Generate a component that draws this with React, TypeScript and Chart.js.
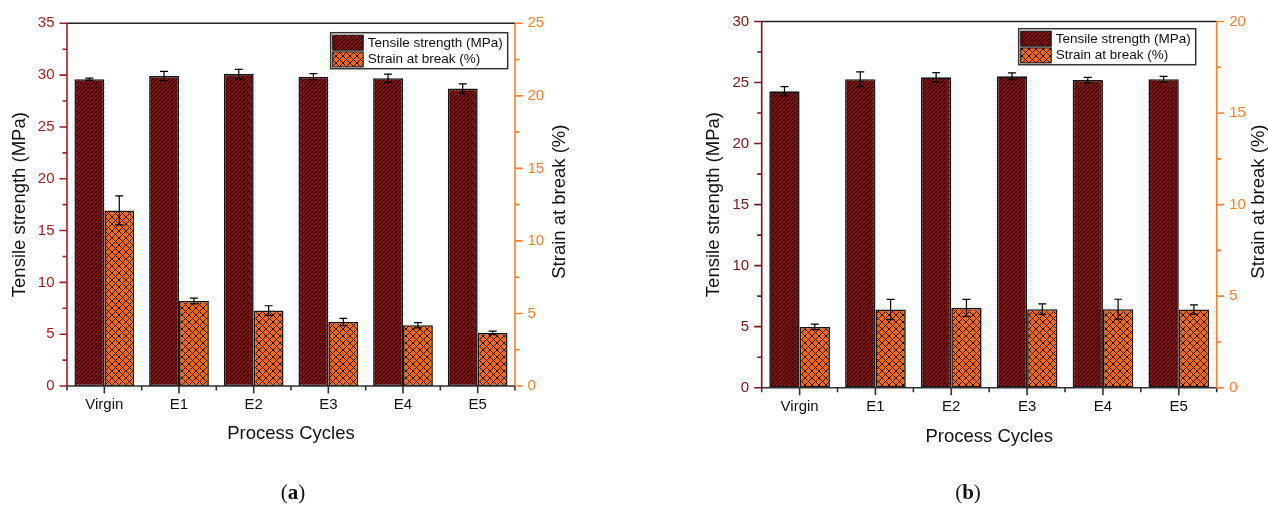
import React, { useEffect, useRef } from "react";
import { Chart, registerables } from "chart.js";

Chart.register(...registerables);

const W = 1268;
const H = 506;

// ---------- data ----------
const categories = ["Virgin", "E1", "E2", "E3", "E4", "E5"];
const seriesLabels = ["Tensile strength (MPa)", "Strain at break (%)"];

const tensileA = [29.6, 29.92, 30.1, 29.85, 29.7, 28.7];
const tensileErrA = [0.1, 0.45, 0.45, 0.3, 0.4, 0.45];
const strainA = [12.1, 5.86, 5.2, 4.41, 4.19, 3.66];
const strainErrA = [1.0, 0.2, 0.33, 0.25, 0.18, 0.12];

const tensileB = [24.28, 25.27, 25.43, 25.51, 25.2, 25.27];
const tensileErrB = [0.38, 0.6, 0.38, 0.28, 0.22, 0.24];
const strainB = [3.32, 4.27, 4.36, 4.29, 4.29, 4.27];
const strainErrB = [0.15, 0.55, 0.46, 0.29, 0.54, 0.25];

const leftMaxA = 35;
const rightMaxA = 25;
const leftMaxB = 30;
const rightMaxB = 20;
const tickStep = 5;

const xTitle = "Process Cycles";
const leftTitle = "Tensile strength (MPa)";
const rightTitle = "Strain at break (%)";

// ---------- styles / layout ----------
const FONT = '"Liberation Sans", Arial, sans-serif';
const ORANGE_AXIS = "#FF7F2A";

type Spec = {
  tensile: number[];
  tensileErr: number[];
  strain: number[];
  strainErr: number[];
  leftMax: number;
  rightMax: number;
  area: { left: number; right: number; top: number; bottom: number };
  leftColor: string;
  leftTitleX: number;
  rightTitleX: number;
  bottomTitleY: number;
  legendX: number;
  legendY: number;
};

const specA: Spec = {
  tensile: tensileA,
  tensileErr: tensileErrA,
  strain: strainA,
  strainErr: strainErrA,
  leftMax: leftMaxA,
  rightMax: rightMaxA,
  area: { left: 67, right: 515, top: 23.3, bottom: 386 },
  leftColor: "#A61E1E",
  leftTitleX: 20,
  rightTitleX: 560,
  bottomTitleY: 433.5,
  legendX: 330.7,
  legendY: 32.7,
};

const specB: Spec = {
  tensile: tensileB,
  tensileErr: tensileErrB,
  strain: strainB,
  strainErr: strainErrB,
  leftMax: leftMaxB,
  rightMax: rightMaxB,
  area: { left: 761.7, right: 1216.7, top: 20.7, bottom: 387.7 },
  leftColor: "#7A1414",
  leftTitleX: 713.5,
  rightTitleX: 1259,
  bottomTitleY: 437,
  legendX: 1018.7,
  legendY: 28.7,
};

function makeDiagonal(ctx: CanvasRenderingContext2D) {
  const c = document.createElement("canvas");
  c.width = 4;
  c.height = 4;
  const g = c.getContext("2d")!;
  g.fillStyle = "#9A0A00";
  g.fillRect(0, 0, 4, 4);
  g.strokeStyle = "#000";
  g.lineWidth = 1.05;
  g.beginPath();
  g.moveTo(-1, 5);
  g.lineTo(5, -1);
  g.moveTo(-1, 1);
  g.lineTo(1, -1);
  g.moveTo(3, 5);
  g.lineTo(5, 3);
  g.stroke();
  return ctx.createPattern(c, "repeat")!;
}

function makeCross(ctx: CanvasRenderingContext2D) {
  const c = document.createElement("canvas");
  c.width = 7;
  c.height = 7;
  const g = c.getContext("2d")!;
  g.fillStyle = "#FF6600";
  g.fillRect(0, 0, 7, 7);
  g.strokeStyle = "#000";
  g.lineWidth = 0.95;
  g.beginPath();
  g.moveTo(-1, -1);
  g.lineTo(8, 8);
  g.moveTo(-1, 8);
  g.lineTo(8, -1);
  g.stroke();
  return ctx.createPattern(c, "repeat")!;
}

function decorPlugin(spec: Spec, patterns: CanvasPattern[]) {
  return {
    id: "decor",
    afterDatasetsDraw(chart: any) {
      const ctx: CanvasRenderingContext2D = chart.ctx;
      const errs = [spec.tensileErr, spec.strainErr];
      ctx.save();
      ctx.strokeStyle = "#000";
      ctx.lineWidth = 1.2;
      chart.data.datasets.forEach((ds: any, di: number) => {
        const meta = chart.getDatasetMeta(di);
        const scale = chart.scales[ds.yAxisID];
        meta.data.forEach((bar: any, i: number) => {
          const v = ds.data[i];
          const e = errs[di][i];
          const yt = scale.getPixelForValue(v + e);
          const yb = scale.getPixelForValue(v - e);
          const x = bar.x;
          ctx.beginPath();
          ctx.moveTo(x, yt);
          ctx.lineTo(x, yb);
          ctx.moveTo(x - 4, yt);
          ctx.lineTo(x + 4, yt);
          ctx.moveTo(x - 4, yb);
          ctx.lineTo(x + 4, yb);
          ctx.stroke();
        });
      });
      ctx.restore();
    },
    afterDraw(chart: any) {
      const ctx: CanvasRenderingContext2D = chart.ctx;
      const a = chart.chartArea;
      const ys = chart.scales.y;
      const y1 = chart.scales.y1;
      const xs = chart.scales.x;
      const major = 7.5;
      const minor = 4.5;
      ctx.save();
      ctx.lineWidth = 1.6;
      // top border
      ctx.strokeStyle = "#222";
      ctx.beginPath();
      ctx.moveTo(a.left, a.top);
      ctx.lineTo(a.right, a.top);
      ctx.stroke();
      // bottom axis
      ctx.strokeStyle = "#333";
      ctx.beginPath();
      ctx.moveTo(a.left, a.bottom);
      ctx.lineTo(a.right, a.bottom);
      const n = categories.length;
      for (let i = 0; i < n; i++) {
        const x = xs.getPixelForValue(i);
        ctx.moveTo(x, a.bottom);
        ctx.lineTo(x, a.bottom + major);
      }
      const cw = (a.right - a.left) / n;
      for (let i = 0; i <= n; i++) {
        const x = a.left + i * cw;
        ctx.moveTo(x, a.bottom);
        ctx.lineTo(x, a.bottom + minor);
      }
      ctx.stroke();
      // left axis
      ctx.strokeStyle = spec.leftColor;
      ctx.beginPath();
      ctx.moveTo(a.left, a.top);
      ctx.lineTo(a.left, a.bottom);
      for (let v = 0; v <= spec.leftMax + 1e-9; v += tickStep / 2) {
        const y = ys.getPixelForValue(v);
        const len = Math.abs(v / tickStep - Math.round(v / tickStep)) < 1e-6 ? major : minor;
        ctx.moveTo(a.left - len, y);
        ctx.lineTo(a.left, y);
      }
      ctx.stroke();
      // right axis
      ctx.strokeStyle = ORANGE_AXIS;
      ctx.beginPath();
      ctx.moveTo(a.right, a.top);
      ctx.lineTo(a.right, a.bottom);
      for (let v = 0; v <= spec.rightMax + 1e-9; v += tickStep / 2) {
        const y = y1.getPixelForValue(v);
        const len = Math.abs(v / tickStep - Math.round(v / tickStep)) < 1e-6 ? major : minor;
        ctx.moveTo(a.right, y);
        ctx.lineTo(a.right + len, y);
      }
      ctx.stroke();

      // titles
      ctx.fillStyle = "#111";
      ctx.font = `18.5px ${FONT}`;
      ctx.textAlign = "center";
      ctx.textBaseline = "middle";
      ctx.fillText(xTitle, (a.left + a.right) / 2, spec.bottomTitleY);
      const midY = (a.top + a.bottom) / 2;
      ctx.save();
      ctx.translate(spec.leftTitleX, midY);
      ctx.rotate(-Math.PI / 2);
      ctx.fillText(leftTitle, 0, 0);
      ctx.restore();
      ctx.save();
      ctx.translate(spec.rightTitleX, midY - 3);
      ctx.rotate(-Math.PI / 2);
      ctx.fillText(rightTitle, 0, 0);
      ctx.restore();

      // legend
      const lx = spec.legendX;
      const ly = spec.legendY;
      const lw = 177;
      const lh = 36;
      ctx.fillStyle = "#fff";
      ctx.fillRect(lx, ly, lw, lh);
      ctx.strokeStyle = "#333";
      ctx.lineWidth = 1.5;
      ctx.strokeRect(lx, ly, lw, lh);
      ctx.font = `13.5px ${FONT}`;
      ctx.textAlign = "left";
      ctx.textBaseline = "middle";
      seriesLabels.forEach((lab, i) => {
        const sy = ly + 2.5 + i * 16.7;
        ctx.fillStyle = patterns[i];
        ctx.fillRect(lx + 2, sy, 30.5, 15);
        ctx.strokeStyle = "#111";
        ctx.lineWidth = 1;
        ctx.strokeRect(lx + 2, sy, 30.5, 15);
        ctx.fillStyle = "#111";
        ctx.fillText(lab, lx + 37, sy + 7.8);
      });
      ctx.restore();
    },
  };
}

function buildConfig(ctx: CanvasRenderingContext2D, spec: Spec): any {
  const diag = makeDiagonal(ctx);
  const cross = makeCross(ctx);
  const tickFont = { family: FONT, size: 15 };
  return {
    type: "bar",
    data: {
      labels: categories,
      datasets: [
        {
          label: seriesLabels[0],
          data: spec.tensile,
          yAxisID: "y",
          backgroundColor: diag,
          borderColor: "#151515",
          borderWidth: 1.6,
          borderSkipped: false,
          categoryPercentage: 0.8,
          barPercentage: 1,
        },
        {
          label: seriesLabels[1],
          data: spec.strain,
          yAxisID: "y1",
          backgroundColor: cross,
          borderColor: "#151515",
          borderWidth: 1.6,
          borderSkipped: false,
          categoryPercentage: 0.8,
          barPercentage: 1,
        },
      ],
    },
    options: {
      responsive: false,
      maintainAspectRatio: false,
      animation: false,
      devicePixelRatio: 1,
      layout: { padding: { top: spec.area.top, left: 0, right: 0, bottom: 0 } },
      plugins: {
        legend: { display: false },
        tooltip: { enabled: false },
        title: { display: false },
      },
      scales: {
        x: {
          type: "category",
          offset: true,
          grid: { display: false, drawTicks: false, tickLength: 0 },
          border: { display: false },
          ticks: {
            padding: 10,
            color: "#111",
            font: tickFont,
            maxRotation: 0,
            minRotation: 0,
            autoSkip: false,
          },
          afterFit: (s: any) => {
            s.height = H - spec.area.bottom;
          },
        },
        y: {
          position: "left",
          min: 0,
          max: spec.leftMax,
          grid: { display: false, drawTicks: false, tickLength: 0 },
          border: { display: false },
          ticks: { stepSize: tickStep, padding: 12.5, color: spec.leftColor, font: tickFont },
          afterFit: (s: any) => {
            s.width = spec.area.left;
          },
        },
        y1: {
          position: "right",
          min: 0,
          max: spec.rightMax,
          grid: { display: false, drawTicks: false, tickLength: 0 },
          border: { display: false },
          ticks: { stepSize: tickStep, padding: 12.5, color: ORANGE_AXIS, font: tickFont },
          afterFit: (s: any) => {
            s.width = W - spec.area.right;
          },
        },
      },
    },
    plugins: [decorPlugin(spec, [diag, cross])],
  };
}

function ChartCanvas({ spec }: { spec: Spec }) {
  const ref = useRef<HTMLCanvasElement>(null);
  useEffect(() => {
    const canvas = ref.current!;
    const chart = new Chart(canvas, buildConfig(canvas.getContext("2d")!, spec));
    return () => chart.destroy();
  }, [spec]);
  return (
    <canvas
      ref={ref}
      width={W}
      height={H}
      style={{ position: "absolute", left: 0, top: 0, width: W, height: H }}
    />
  );
}

const panelLabelStyle: React.CSSProperties = {
  position: "absolute",
  top: 492,
  transform: "translate(-50%, -50%)",
  fontFamily: '"Liberation Serif", "DejaVu Serif", serif',
  fontSize: 21,
  color: "#111",
  whiteSpace: "nowrap",
  lineHeight: 1,
};

export default function App() {
  return (
    <div
      style={{
        position: "absolute",
        left: 0,
        top: 0,
        width: W,
        height: H,
        background: "#fff",
        overflow: "hidden",
      }}
    >
      <ChartCanvas spec={specA} />
      <ChartCanvas spec={specB} />
      <div style={{ ...panelLabelStyle, left: 293 }}>
        (<b>a</b>)
      </div>
      <div style={{ ...panelLabelStyle, left: 968 }}>
        (<b>b</b>)
      </div>
    </div>
  );
}
